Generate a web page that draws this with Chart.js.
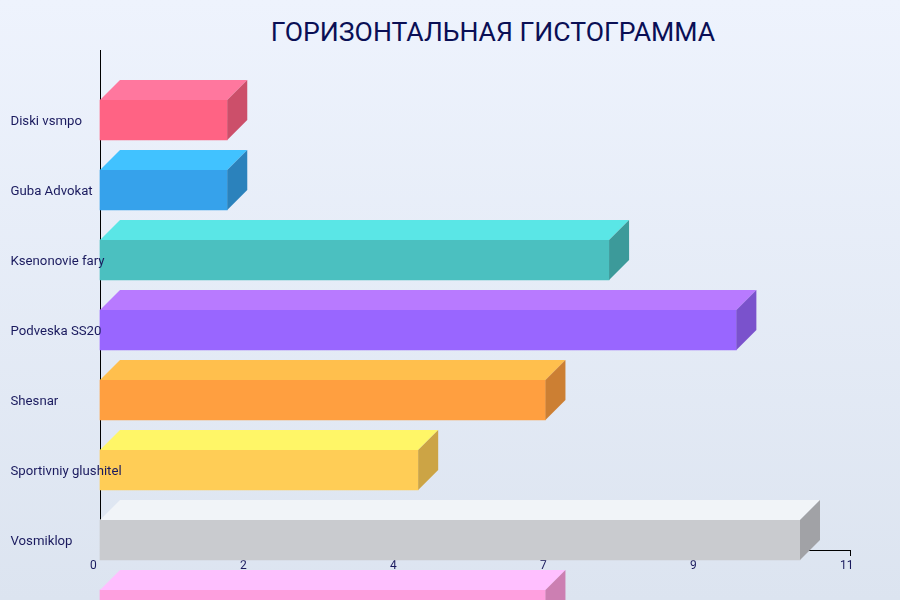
<!DOCTYPE html>
<html>
<head>
<meta charset="utf-8">
<script src="https://cdn.jsdelivr.net/npm/chart.js@4/dist/chart.umd.min.js"></script>
<style>
  html, body { margin: 0; padding: 0; width: 900px; height: 600px; overflow: hidden; }
  body { background: linear-gradient(to bottom, #eef3fd 0%, #dce4f0 100%); position: relative; font-family: Roboto, sans-serif; }
  #title { position: absolute; left: 0; top: 18px; width: 986px; text-align: center; font: 400 26.6px/27px Roboto, sans-serif; color: #0a0f55; white-space: nowrap; }
  #wrap { position: absolute; left: 0; top: 0; width: 900px; height: 600px; }
</style>
</head>
<body>
<div id="title">ГОРИЗОНТАЛЬНАЯ ГИСТОГРАММА</div>
<div id="wrap"><canvas id="c" width="900" height="600"></canvas></div>
<script>
// ---- data ----
const categories = ['Diski vsmpo', 'Guba Advokat', 'Ksenonovie fary', 'Podveska SS20', 'Shesnar', 'Sportivniy glushitel', 'Vosmiklop', 'Nakladki'];
const values = [2, 2, 8, 10, 7, 5, 11, 7];
const xTickValues = [0, 2.2, 4.4, 6.6, 8.8, 11];
const xTickLabels = ['0', '2', '4', '7', '9', '11'];
const barColors = ['#ff6384', '#36a2eb', '#4bc0c0', '#9966ff', '#ff9f40', '#ffcd56', '#c9cbcf', '#ff9fdf'];

const DEPTH = 20;
const LABEL_COLOR = '#1a1a5e';
function shade(hex, f) {
  const n = parseInt(hex.slice(1), 16);
  const r = Math.min(255, Math.round(((n >> 16) & 255) * f));
  const g = Math.min(255, Math.round(((n >> 8) & 255) * f));
  const b = Math.min(255, Math.round((n & 255) * f));
  return `rgb(${r},${g},${b})`;
}

const bar3d = {
  id: 'bar3d',
  afterDatasetsDraw(chart) {
    const ctx = chart.ctx;
    chart.data.datasets.forEach((ds, di) => {
      const meta = chart.getDatasetMeta(di);
      meta.data.forEach((el, i) => {
        const p = el.getProps(['x', 'y', 'base', 'height'], true);
        const x0 = Math.min(p.base, p.x), x1 = Math.max(p.base, p.x);
        const top = p.y - p.height / 2, bottom = p.y + p.height / 2;
        const col = ds.backgroundColor[i];
        ctx.save();
        ctx.fillStyle = shade(col, 1.2);
        ctx.beginPath();
        ctx.moveTo(x0, top);
        ctx.lineTo(x0 + DEPTH, top - DEPTH);
        ctx.lineTo(x1 + DEPTH, top - DEPTH);
        ctx.lineTo(x1, top);
        ctx.closePath();
        ctx.fill();
        ctx.fillStyle = shade(col, 0.8);
        ctx.beginPath();
        ctx.moveTo(x1, top);
        ctx.lineTo(x1 + DEPTH, top - DEPTH);
        ctx.lineTo(x1 + DEPTH, bottom - DEPTH);
        ctx.lineTo(x1, bottom);
        ctx.closePath();
        ctx.fill();
        ctx.restore();
      });
    });
  },
  // category labels drawn on top of the bars, at the y-scale positions
  afterDraw(chart) {
    const ctx = chart.ctx;
    const ys = chart.scales.y;
    ctx.save();
    ctx.fillStyle = LABEL_COLOR;
    ctx.font = '13.2px Roboto, sans-serif';
    ctx.textAlign = 'left';
    ctx.textBaseline = 'alphabetic';
    categories.forEach((c, i) => {
      ctx.fillText(c, ys.left + 0.5, ys.getPixelForValue(i) + 5);
    });
    ctx.restore();
  }
};

Chart.defaults.font.family = 'Roboto, sans-serif';
new Chart(document.getElementById('c'), {
  type: 'bar',
  data: {
    datasets: [{
      data: values.map((v, i) => ({ x: v, y: i })),
      backgroundColor: barColors,
      borderWidth: 0,
      barThickness: 40,
      xAxisID: 'xBar',
      yAxisID: 'y',
      clip: false
    }]
  },
  options: {
    indexAxis: 'y',
    responsive: false,
    animation: false,
    layout: { padding: { left: 10, right: 50, top: 50, bottom: 0 } },
    plugins: { legend: { display: false }, tooltip: { enabled: false }, title: { display: false } },
    scales: {
      y: {
        type: 'linear',
        position: 'left',
        reverse: true,
        offset: false,
        min: -1,
        max: 6.142857,
        afterBuildTicks: s => { s.ticks = categories.map((_, i) => ({ value: i })); },
        afterFit: s => { s.width = 90; },
        grid: { display: false, offset: false },
        border: { display: true, color: '#000', width: 1 },
        ticks: { display: false }
      },
      x: {
        type: 'linear',
        position: 'bottom',
        min: 0,
        max: 11,
        afterBuildTicks: s => { s.ticks = xTickValues.map(v => ({ value: v })); },
        afterFit: s => { s.height = 50; },
        grid: { display: true, drawOnChartArea: false, drawTicks: true, tickLength: 6, color: '#000' },
        border: { display: true, color: '#000', width: 1 },
        ticks: {
          color: LABEL_COLOR,
          font: { size: 12 },
          padding: 3,
          align: 'start',
          labelOffset: -10,
          maxRotation: 0,
          autoSkip: false,
          callback: (v, idx) => xTickLabels[idx]
        }
      },
      xBar: {
        type: 'linear',
        display: false,
        min: 0,
        max: 11.7857
      }
    }
  },
  plugins: [bar3d]
});
</script>
</body>
</html>
